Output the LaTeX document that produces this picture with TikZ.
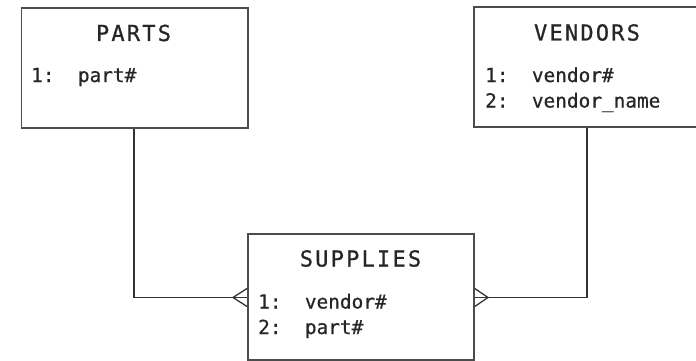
\documentclass[tikz,border=0pt]{standalone}
\usepackage{fontspec}
\newfontfamily\attrfont[FakeBold=0.6]{DejaVu Sans Mono}
\newfontfamily\titlefont[LetterSpace=10,FakeBold=0.8]{DejaVu Sans Mono}
\begin{document}
\begin{tikzpicture}[x=1pt,y=-1pt,
  entity/.style={draw=black!70, line width=1.8pt, fill=white, anchor=north west, inner sep=0pt},
  title/.style={font=\titlefont\fontsize{22}{26}\selectfont, text=black!85, anchor=base, inner sep=0pt},
  attr/.style={font=\attrfont\fontsize{19.4}{25.5}\selectfont, text=black!85, anchor=base west, inner sep=0pt, align=left},
  link/.style={draw=black!80, line width=1.6pt}]
\useasboundingbox (0,0) rectangle (696,361);

% entity boxes
\node[entity, minimum width=226.5pt, minimum height=120pt] (parts) at (20.5,7) {};
\node[entity, minimum width=227pt, minimum height=120pt] (vendors) at (473,6) {};
\node[entity, minimum width=226pt, minimum height=126pt] (supplies) at (247,233) {};

% titles
\node[title] (tparts) at (133.5,41) {PARTS};
\node[title] (tvendors) at (587,40.5) {VENDORS};
\node[title] (tsupplies) at (360.5,266.5) {SUPPLIES};

% attribute lists
\node[attr] (aparts) at (31,82) {1:\ \ part\#};
\node[attr] (avendors1) at (485,82) {1:\ \ vendor\#};
\node[attr] (avendors2) at (485,107.5) {2:\ \ vendor\symbol{95}name};
\node[attr] (asupplies1) at (258,308.5) {1:\ \ vendor\#};
\node[attr] (asupplies2) at (258,334) {2:\ \ part\#};

% relationship lines
\coordinate (pbend) at (134,297.5);
\coordinate (vbend) at (587,297.5);
\coordinate (lfoot) at (233,297.5);
\coordinate (rfoot) at (488,297.5);
\draw[link] (parts.south -| pbend) -- (pbend) -- (supplies.west |- pbend);
\draw[link] (vendors.south -| vbend) -- (vbend) -- (supplies.east |- vbend);

% crow's feet (many side at SUPPLIES)
\draw[link, line width=1.3pt] (supplies.west |- 0,288.5) -- (lfoot) -- (supplies.west |- 0,306.5);
\draw[link, line width=1.3pt] (supplies.east |- 0,288.5) -- (rfoot) -- (supplies.east |- 0,306.5);
\end{tikzpicture}
\end{document}
